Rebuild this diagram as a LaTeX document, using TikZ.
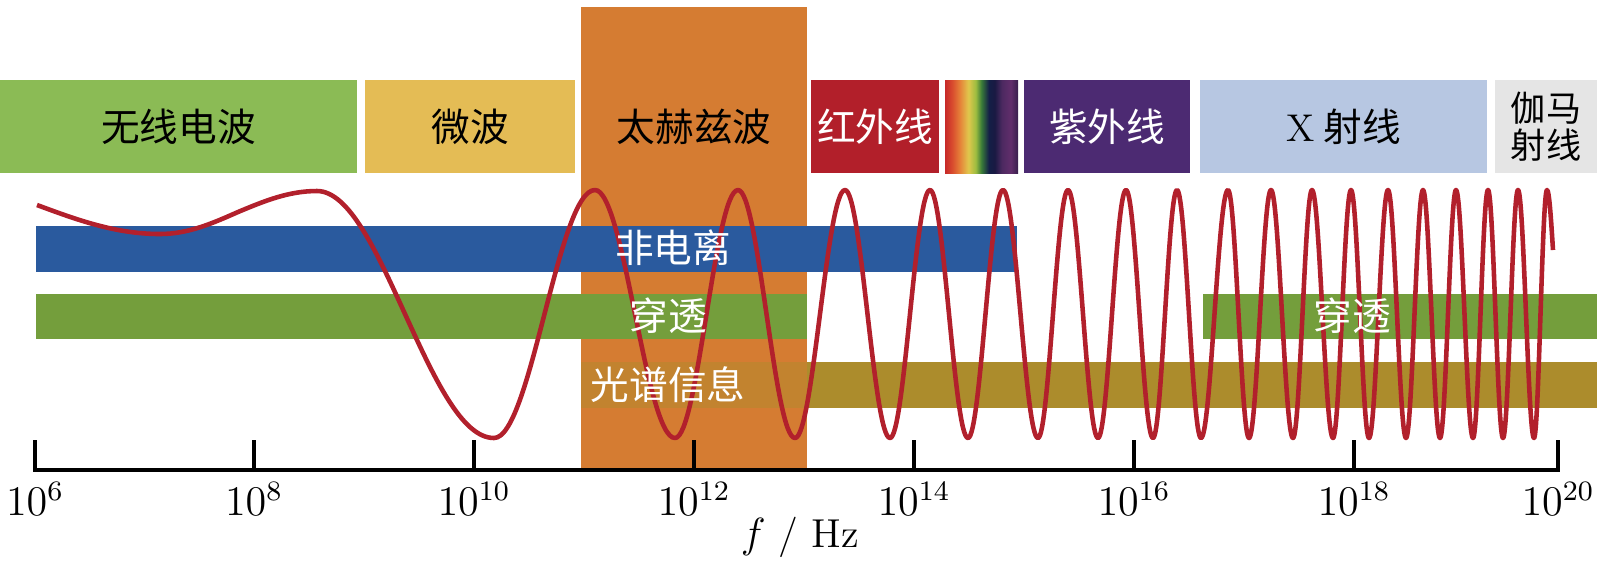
\documentclass[tikz,border=0pt]{standalone}
\usepackage{fontspec}
\newfontfamily\cjk{Noto Sans CJK SC}
\definecolor{radio}{RGB}{139,187,85}
\definecolor{micro}{RGB}{228,188,85}
\definecolor{thz}{RGB}{213,124,50}
\definecolor{infra}{RGB}{178,31,42}
\definecolor{ultra}{RGB}{76,42,114}
\definecolor{xray}{RGB}{183,199,226}
\definecolor{gammagrey}{RGB}{229,229,229}
\definecolor{ionblue}{RGB}{42,90,158}
\definecolor{pengreen}{RGB}{116,158,60}
\definecolor{specolive}{RGB}{172,140,44}
\definecolor{wavered}{RGB}{178,32,44}
\pgfdeclarehorizontalshading{spectrum}{100bp}{rgb(0bp)=(0.78,0.16,0.16); rgb(25bp)=(0.78,0.16,0.16); rgb(30bp)=(0.85,0.30,0.18); rgb(35bp)=(0.90,0.50,0.22); rgb(41bp)=(0.88,0.78,0.30); rgb(46bp)=(0.62,0.74,0.25); rgb(50bp)=(0.22,0.48,0.22); rgb(55bp)=(0.08,0.12,0.28); rgb(59bp)=(0.10,0.10,0.26); rgb(64bp)=(0.30,0.16,0.38); rgb(70bp)=(0.38,0.18,0.42); rgb(75bp)=(0.22,0.12,0.30); rgb(100bp)=(0.22,0.12,0.30)}

\begin{document}
\begin{tikzpicture}[x=0.1mm,y=-0.1mm]
   \tikzstyle{every node}=[font=\cjk\fontsize{11}{13}\selectfont, inner sep=0pt]
   \tikzstyle{dark}=[text=black]
   \tikzstyle{light}=[text=white]
   \tikzstyle{num}=[font=\rmfamily\fontsize{11.5}{13}\selectfont, text=black]
   \tikzstyle{wave}=[draw=wavered, line width=1.3pt, line join=round]
   \tikzstyle{axis}=[line width=1.1pt, line cap=rect]

\useasboundingbox (0,0) rectangle (1600,567);

\fill[radio] (0,80) rectangle (357,173) node[pos=.5, dark] (radio) {无线电波};
\fill[micro] (365,80) rectangle (575,173) node[pos=.5, dark] (micro) {微波};
\fill[thz] (581,7) rectangle (807,470);
\node[dark] (thz) at (694,127) {太赫兹波};
\fill[infra] (811,80) rectangle (939,173) node[pos=.5, light] (infra) {红外线};
\shade[shading=spectrum] (945,80) rectangle (1018,173);
\fill[ultra] (1024,80) rectangle (1190,173) node[pos=.5, light] (ultra) {紫外线};
\fill[xray] (1200,80) rectangle (1487,173) node[pos=.5, dark] (xray) {{\rmfamily X} 射线};
\fill[gammagrey] (1495,80) rectangle (1597,173) node[pos=.5, dark, align=center, font=\cjk\fontsize{10}{10.5}\selectfont] (gamma) {伽马\\射线};

\fill[ionblue] (36,226) rectangle (1017,272);
\fill[pengreen] (36,294) rectangle (807,339);
\fill[pengreen] (1203,294) rectangle (1597,339);
\fill[specolive, opacity=.45] (581,362) rectangle (807,408);
\fill[specolive] (807,362) rectangle (1597,408);

\draw[wave] (37,205) sin (160,234) cos (238,212) sin (317,191) cos (405,314) sin (494,438)
   \foreach \x [remember=\x as \lastx (initially 494), count=\i] in {595,675,738,795,845,890,930,968,1003,1038,1068,1098,1126,1153,1177,1201,1228,1249,1271,1293,1312,1333,1351,1369,1388,1406,1423,1440,1456,1473,1488,1503,1518,1534,1547}
   {cos ({(\lastx+\x)/2},314) sin (\x,{mod(\i,2)==1 ? 190 : 438})}
   cos (1553,250);

\node[light] (nonion) at (673,248) {非电离};
\node[light] (pen1) at (668,316) {穿透};
\node[light] (pen2) at (1352,316) {穿透};
\node[light] (spec) at (668,385) {光谱信息};

\foreach \x/\e in {35/6,254/8,474/10,694/12,914/14,1134/16,1354/18,1558/20} {
   \draw[axis] (\x,442) -- (\x,470);
   \node[num] (e\e) at (\x,499) {$10^{\e}$};
}
\draw[axis] (35,470) -- (1558,470);
\node[num] (flab) at (800,537) {$f$ / Hz};

\end{tikzpicture}
\end{document}
